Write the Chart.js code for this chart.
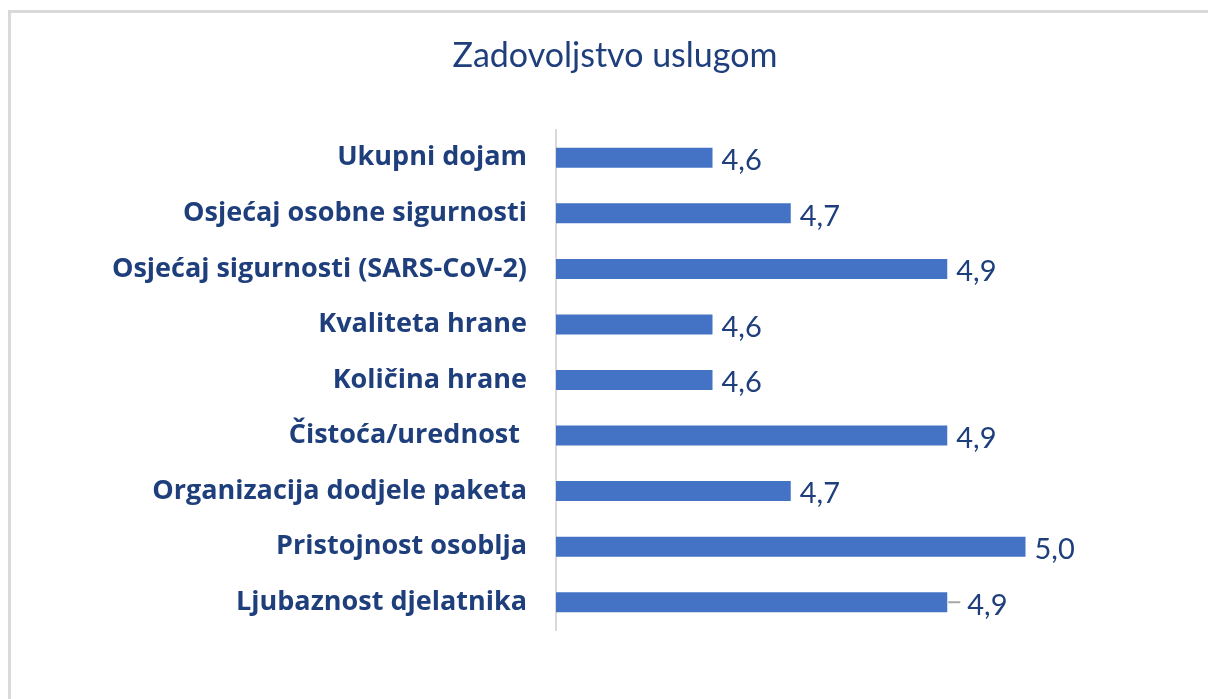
<!DOCTYPE html>
<html><head><meta charset="utf-8">
<script src="https://cdn.jsdelivr.net/npm/chart.js@4.4.1/dist/chart.umd.min.js"></script>
<style>html,body{margin:0;padding:0;background:#fff}#wrap{width:1208px;height:699px;position:relative}</style>
</head><body><div id="wrap"><canvas id="c" width="1208" height="699"></canvas></div>
<script>
const titleText = 'Zadovoljstvo uslugom';
const categories = ['Ukupni dojam','Osjećaj osobne sigurnosti','Osjećaj sigurnosti (SARS-CoV-2)','Kvaliteta hrane','Količina hrane','Čistoća/urednost ','Organizacija dodjele paketa','Pristojnost osoblja','Ljubaznost djelatnika'];
const values = [4.6,4.7,4.9,4.6,4.6,4.9,4.7,5.0,4.9];
const axisMin = 4.4, axisMax = 5.2;

const TXT = '#1F3F7C';
const frame = {id:'frame', beforeDraw(ch){const c=ch.ctx;c.save();c.strokeStyle='#d9d9d9';c.lineWidth=3;c.strokeRect(9.5,11.5,1400,900);
  c.font='34px Lato';c.fillStyle=TXT;c.textAlign='center';c.textBaseline='middle';c.fillText(titleText,615,56);c.restore();}};
const valLabels = {id:'valLabels', afterDatasetsDraw(ch){
  const c=ch.ctx, meta=ch.getDatasetMeta(0);
  c.save(); c.font='29px Lato'; c.fillStyle=TXT; c.textBaseline='middle'; c.textAlign='left';
  meta.data.forEach((b,i)=>{
    const t=values[i].toFixed(1).replace('.',',');
    let x=b.x+9;
    if(i===meta.data.length-1){c.strokeStyle='#a6a6a6';c.lineWidth=2;c.beginPath();c.moveTo(b.x+1,b.y);c.lineTo(b.x+13,b.y);c.stroke();x=b.x+20;}
    c.fillText(t,x,b.y+3);
  });
  c.restore();
}};
new Chart(document.getElementById('c'),{
  type:'bar',
  data:{labels:categories,datasets:[{data:values,backgroundColor:'#4472C4',borderWidth:0,categoryPercentage:1,barPercentage:0.36}]},
  options:{indexAxis:'y',responsive:false,animation:false,
    layout:{padding:{left:22,right:26,bottom:69,top:130}},
    plugins:{legend:{display:false},tooltip:{enabled:false},title:{display:false}},
    scales:{
      x:{display:false,min:axisMin,max:axisMax},
      y:{grid:{display:false,drawTicks:false},border:{display:true,color:'#d9d9d9',width:2},
        ticks:{color:TXT,font:{family:'Open Sans',size:27,weight:'bold'},padding:29},
        afterFit(s){s.width=534;}}
    }},
  plugins:[frame,valLabels]
});
</script></body></html>
